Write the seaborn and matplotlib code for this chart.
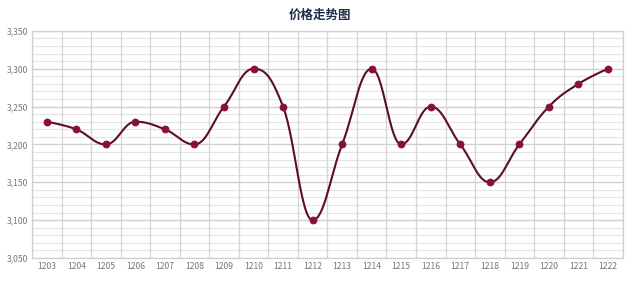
import numpy as np
import pandas as pd
import matplotlib
matplotlib.use("Agg")
import matplotlib.pyplot as plt
import seaborn as sns
from matplotlib.ticker import MultipleLocator, FuncFormatter

categories = ["1203", "1204", "1205", "1206", "1207", "1208", "1209", "1210", "1211", "1212",
              "1213", "1214", "1215", "1216", "1217", "1218", "1219", "1220", "1221", "1222"]
prices = [3230, 3220, 3200, 3230, 3220, 3200, 3250, 3300, 3250, 3100,
          3200, 3300, 3200, 3250, 3200, 3150, 3200, 3250, 3280, 3300]
title = "价格走势图"

sns.set_theme(style="white")
plt.rcParams['font.family'] = ['Noto Sans CJK SC', 'DejaVu Sans']


def spline_points(xs, ys, smoothing=1.5, n=30):
    xs = np.asarray(xs, float)
    ys = np.asarray(ys, float)
    m = len(xs)
    lc = [(xs[i], ys[i]) for i in range(m)]
    rc = [(xs[i], ys[i]) for i in range(m)]
    d = smoothing + 1
    for i in range(1, m - 1):
        px, py = xs[i], ys[i]
        lx, ly = xs[i - 1], ys[i - 1]
        nx, ny = xs[i + 1], ys[i + 1]
        lcx = (smoothing * px + lx) / d
        lcy = (smoothing * py + ly) / d
        rcx = (smoothing * px + nx) / d
        rcy = (smoothing * py + ny) / d
        if rcx != lcx:
            corr = (rcy - lcy) * (rcx - px) / (rcx - lcx) + py - rcy
            lcy += corr
            rcy += corr
        if lcy > ly and lcy > py:
            lcy = max(ly, py); rcy = 2 * py - lcy
        elif lcy < ly and lcy < py:
            lcy = min(ly, py); rcy = 2 * py - lcy
        if rcy > ny and rcy > py:
            rcy = max(ny, py); lcy = 2 * py - rcy
        elif rcy < ny and rcy < py:
            rcy = min(ny, py); lcy = 2 * py - rcy
        lc[i] = (lcx, lcy)
        rc[i] = (rcx, rcy)
    X, Y = [], []
    t = np.linspace(0, 1, n)
    for i in range(m - 1):
        p0 = np.array([xs[i], ys[i]])
        p1 = np.array(rc[i])
        p2 = np.array(lc[i + 1])
        p3 = np.array([xs[i + 1], ys[i + 1]])
        pts = ((1 - t)[:, None] ** 3) * p0 + 3 * ((1 - t)[:, None] ** 2) * t[:, None] * p1 \
            + 3 * (1 - t)[:, None] * (t[:, None] ** 2) * p2 + (t[:, None] ** 3) * p3
        if i > 0:
            pts = pts[1:]
        X.extend(pts[:, 0]); Y.extend(pts[:, 1])
    return np.array(X), np.array(Y)


xidx = np.arange(len(categories))
sx, sy = spline_points(xidx, prices)
curve = pd.DataFrame({"x": sx, "y": sy})
pts = pd.DataFrame({"x": xidx, "price": prices})

fig = plt.figure(figsize=(6.4, 2.81), dpi=100)
ax = fig.add_axes([0.05, 0.082, 0.923, 0.808])

# grid
ax.set_xlim(-0.5, len(categories) - 0.5)
ax.set_ylim(3050, 3350)
for v in np.arange(3050, 3351, 10):
    major = (v % 50 == 0)
    ax.axhline(v, color="#d0d0d0" if major else "#e3e3e3", lw=1.0 if major else 0.8, zorder=0)
for b in np.arange(-0.5, len(categories), 1.0):
    ax.axvline(b, color="#d4d4d4", lw=0.9, zorder=0)

sns.lineplot(data=curve, x="x", y="y", sort=False, ax=ax, color="#5c0d2c", lw=1.5, zorder=3)
sns.scatterplot(data=pts, x="x", y="price", ax=ax, color="#8a0f38", s=26, edgecolor="#8a0f38",
                linewidth=0.5, zorder=4)

ax.set_xticks(xidx)
ax.set_xticklabels(categories)
ax.yaxis.set_major_locator(MultipleLocator(50))
ax.yaxis.set_major_formatter(FuncFormatter(lambda v, p: f"{int(v):,}"))
ax.tick_params(axis="both", labelsize=6.2, colors="#777777", length=0, pad=3)
ax.set_xlabel("")
ax.set_ylabel("")
for s in ax.spines.values():
    s.set_color("#d0d0d0")
    s.set_linewidth(0.9)

fig.text(0.5, 0.945, title, ha="center", va="center", fontsize=9, fontweight="bold", color="#1f2f4a")

fig.savefig("out.png", dpi=100, facecolor="white")
